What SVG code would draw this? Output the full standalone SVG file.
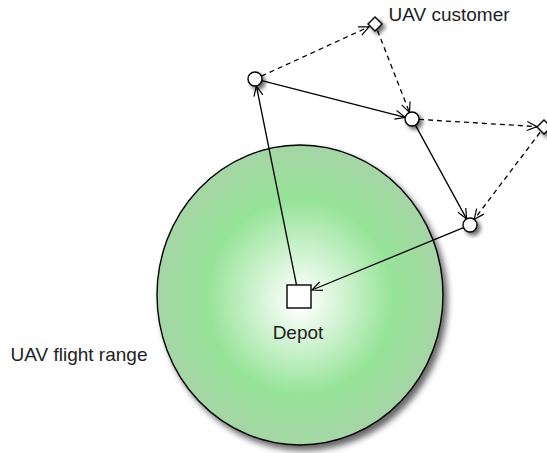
<svg xmlns="http://www.w3.org/2000/svg" width="547" height="453" viewBox="0 0 547 453">
<defs>
<radialGradient id="g" cx="0.5" cy="0.5" r="0.5" fx="0.5" fy="0.52">
<stop offset="0" stop-color="#ffffff"/>
<stop offset="0.08" stop-color="#f6fdf6"/>
<stop offset="0.65" stop-color="#96e398"/>
<stop offset="1" stop-color="#a6d5a6"/>
</radialGradient>
<filter id="sh" x="-50%" y="-50%" width="200%" height="200%">
<feGaussianBlur in="SourceAlpha" stdDeviation="2"/>
<feOffset dx="2.5" dy="3" result="b"/>
<feComponentTransfer><feFuncA type="linear" slope="0.6"/></feComponentTransfer>
<feMerge><feMergeNode/><feMergeNode in="SourceGraphic"/></feMerge>
</filter>
<filter id="shE" x="-10%" y="-10%" width="125%" height="125%">
<feGaussianBlur in="SourceAlpha" stdDeviation="3"/>
<feOffset dx="4" dy="5" result="b"/>
<feComponentTransfer><feFuncA type="linear" slope="0.6"/></feComponentTransfer>
<feMerge><feMergeNode/><feMergeNode in="SourceGraphic"/></feMerge>
</filter>
<marker id="arr" markerUnits="userSpaceOnUse" markerWidth="12" markerHeight="10" refX="10" refY="4.5" orient="auto" overflow="visible">
<path d="M0,0 L10,4.5 L0,9" fill="none" stroke="#000" stroke-width="1.2"/>
</marker>
<style>
.node{fill:#fff;stroke:#000;stroke-width:1.4}
.e{fill:none;stroke:#000;stroke-width:1.3;marker-end:url(#arr)}
.d{stroke-dasharray:5,4}
text{font-family:"Liberation Sans",Arial,sans-serif;font-size:19px;fill:#222}
</style>
</defs>
<g id="range">
<ellipse cx="300" cy="295" rx="143" ry="150" fill="url(#g)" stroke="#000" stroke-width="1.4" filter="url(#shE)"/>
<text x="10.5" y="360.5">UAV flight range</text>
</g>
<g id="connectors">
<line class="e" x1="296.5" y1="285" x2="256.4" y2="86"/>
<line class="e" x1="261.8" y1="80.7" x2="405.2" y2="117.3"/>
<line class="e" x1="415.4" y1="125.1" x2="466.6" y2="218.9"/>
<line class="e" x1="463.5" y1="227.7" x2="312" y2="290"/>
<line class="e d" x1="261.4" y1="76.1" x2="369" y2="26.8"/>
<line class="e d" x1="377.5" y1="30.5" x2="409.5" y2="112.5"/>
<line class="e d" x1="419" y1="119.4" x2="537" y2="126.6"/>
<line class="e d" x1="540" y1="132.5" x2="474.2" y2="219.4"/>
</g>
<g id="depot">
<rect class="node" x="287" y="285" width="24" height="23"/>
<text x="298" y="339" text-anchor="middle">Depot</text>
</g>
<g id="n1"><circle class="node" cx="255" cy="79" r="7" filter="url(#sh)"/></g>
<g id="n2"><circle class="node" cx="412" cy="119" r="7" filter="url(#sh)"/></g>
<g id="n3"><circle class="node" cx="470" cy="225" r="7" filter="url(#sh)"/></g>
<g id="c1">
<path class="node" d="M375,17 L382,24 L375,31 L368,24 Z" filter="url(#sh)"/>
<text x="388.5" y="21">UAV customer</text>
</g>
<g id="c2"><path class="node" d="M544,120 L551,127 L544,134 L537,127 Z" filter="url(#sh)"/></g>
</svg>
